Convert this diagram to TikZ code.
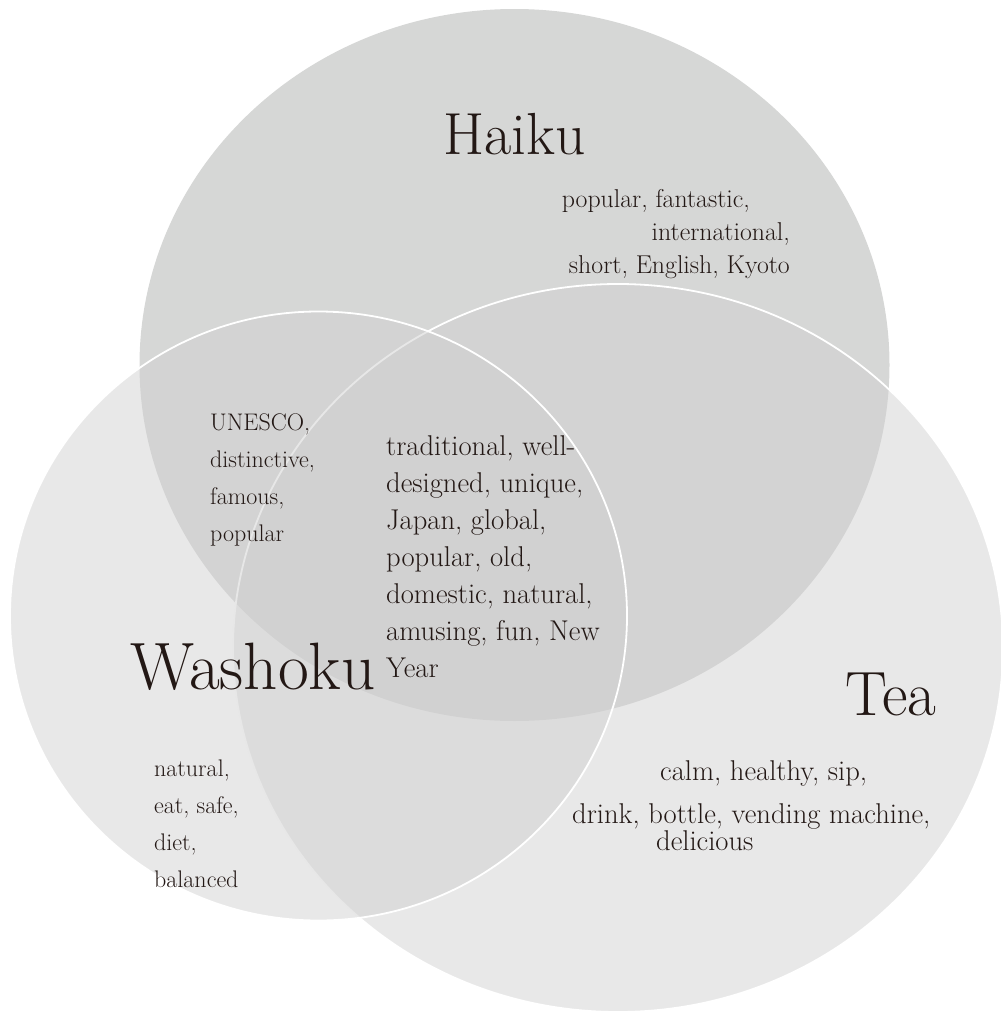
\documentclass[tikz,border=0pt]{standalone}
\usepackage{tikz}
\usepackage{xcolor}
\usetikzlibrary{positioning}
\definecolor{haikugray}{HTML}{D6D7D6}
\definecolor{setgray}{HTML}{D1D1D1}
\definecolor{inkbrown}{HTML}{231815}

\begin{document}
\begin{tikzpicture}[x=1pt, y=-1pt,
  every node/.style={text=inkbrown, inner sep=0pt},
  title/.style={anchor=base west},
  words/.style={font=\fontsize{24}{37}\selectfont, align=left, anchor=north west},
  setfill/.style={fill=setgray, fill opacity=0.5, draw=white, line width=1.8pt}]
  \useasboundingbox (0,0) rectangle (1001,1012);
  \clip (0,0) rectangle (1001,1012);

  % the three sets
  \fill[haikugray] (514.5,365) ellipse [x radius=375pt, y radius=356pt];
  \filldraw[setfill] (618,648) ellipse [x radius=385pt, y radius=364pt];
  \filldraw[setfill] (318.5,616) ellipse [x radius=308.5pt, y radius=304.5pt];

  % set names
  \node[title, font=\fontsize{59.4}{64}\selectfont] (haiku) at (443,154) {Haiku};
  \node[title, font=\fontsize{67}{72}\selectfont] (washoku) at (130,689) {Washoku};
  \node[title, font=\fontsize{62.6}{68}\selectfont] (tea) at (845,715) {Tea};

  % words in each region
  \node[words, font=\fontsize{25.8}{33}\selectfont, align=right, anchor=north east] (haikuwords) at (790,189)
    {popular, fantastic,\hspace*{40pt}\\international,\\short, English, Kyoto};
  \node[words] (haikuwashoku) at (210,413.6) {UNESCO,\\distinctive,\\famous,\\popular};
  \node[words, font=\fontsize{28.6}{37}\selectfont] (allthree) at (386,435)
    {traditional, well-\\designed, unique,\\Japan, global,\\popular, old,\\domestic, natural,\\amusing, fun, New\\Year};
  \node[words] (washokuwords) at (154,760) {natural,\\eat, safe,\\diet,\\balanced};
  \node[words, font=\fontsize{28.6}{27}\selectfont] (teawords) at (572,760)
    {\hspace*{88pt}calm, healthy, sip,\\[16pt]drink, bottle, vending machine,\\\hspace*{84pt}delicious};
\end{tikzpicture}
\end{document}
